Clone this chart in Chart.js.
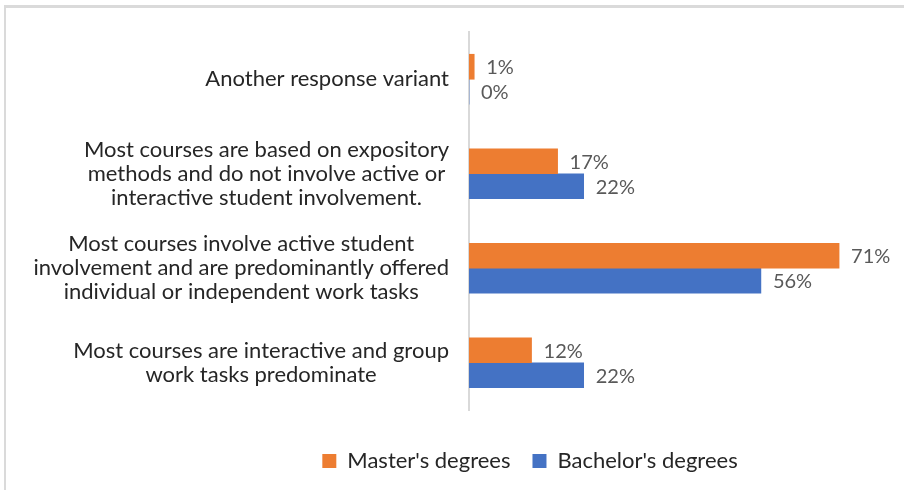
<!DOCTYPE html>
<html>
<head>
<meta charset="utf-8">
<script src="https://cdn.jsdelivr.net/npm/chart.js@4"></script>
<style>
  html, body { margin: 0; padding: 0; background: #fff; }
  #wrap { position: relative; width: 904px; height: 490px; }
  #frame { position: absolute; left: 4px; top: 5px; right: -10px; bottom: -10px;
           border-left: 2px solid #dadada; border-top: 3px solid #dadada; pointer-events: none; }
</style>
</head>
<body>
<div id="wrap">
  <canvas id="chart" width="904" height="490"></canvas>
  <div id="frame"></div>
</div>
<script>
const categories = [
  ["Another response variant"],
  ["Most courses are based on expository", "methods and do not involve active or", "interactive student involvement."],
  ["Most courses involve active student", "involvement and are predominantly offered", "individual or independent work tasks"],
  ["Most courses are interactive and group", "work tasks predominate"],
];
const seriesNames = ["Master's degrees", "Bachelor's degrees"];
const masters = [1, 17, 71, 12];
const bachelors = [0, 22, 56, 22];
const FONT = "Lato, 'Open Sans', sans-serif";
const LINE_H = 24;

// value labels next to each bar end
const barLabels = {
  id: "barLabels",
  afterDatasetsDraw(chart) {
    const ctx = chart.ctx;
    ctx.save();
    ctx.font = `20px ${FONT}`;
    ctx.fillStyle = "#595959";
    ctx.textAlign = "left";
    ctx.textBaseline = "middle";
    chart.data.datasets.forEach((ds, i) => {
      chart.getDatasetMeta(i).data.forEach((bar, j) => {
        ctx.fillText(`${ds.data[j]}%`, bar.x + 12, bar.y + 1);
      });
    });
    ctx.restore();
  },
};

// category labels the Excel way: block right-aligned to the axis, lines centred inside it
const categoryLabels = {
  id: "categoryLabels",
  afterDraw(chart) {
    const scale = chart.scales.y;
    const ctx = chart.ctx;
    ctx.save();
    ctx.font = `22px ${FONT}`;
    ctx.fillStyle = "#262626";
    ctx.textAlign = "center";
    ctx.textBaseline = "middle";
    const right = scale.right - 20;
    categories.forEach((lines, i) => {
      const w = Math.max(...lines.map((l) => ctx.measureText(l).width));
      const cx = right - w / 2;
      const cy = scale.getPixelForTick(i);
      lines.forEach((l, k) => {
        ctx.fillText(l, cx, cy + (k - (lines.length - 1) / 2) * LINE_H);
      });
    });
    ctx.restore();
  },
};

// Excel puts the legend a bit right of the canvas centre
const legendShift = {
  id: "legendShift",
  afterLayout(chart) {
    chart.legend.left += 82;
    chart.legend.right += 82;
  },
};

new Chart(document.getElementById("chart"), {
  type: "bar",
  data: {
    labels: categories,
    datasets: [
      { label: seriesNames[0], data: masters, backgroundColor: "#ED7D31", barThickness: 25 },
      { label: seriesNames[1], data: bachelors, backgroundColor: "#4472C4", barThickness: 25 },
    ],
  },
  options: {
    indexAxis: "y",
    responsive: false,
    animation: false,
    layout: { padding: { top: 32, right: 18, left: 10, bottom: 8 } },
    plugins: {
      legend: {
        position: "bottom",
        labels: { font: { family: FONT, size: 22 }, color: "#262626", boxWidth: 14, boxHeight: 14, padding: 22 },
      },
      tooltip: { enabled: false },
    },
    scales: {
      x: {
        min: 0, max: 80,
        grid: { display: false },
        border: { display: false },
        ticks: { display: false },
        afterFit: (s) => { s.height = 18; },
      },
      y: {
        grid: { display: false, drawTicks: false },
        border: { color: "#d9d9d9", width: 2 },
        ticks: { display: false },
        afterFit: (s) => { s.width = 459; s.paddingTop = 0; s.paddingBottom = 0; },
      },
    },
  },
  plugins: [barLabels, categoryLabels, legendShift],
});
</script>
</body>
</html>
